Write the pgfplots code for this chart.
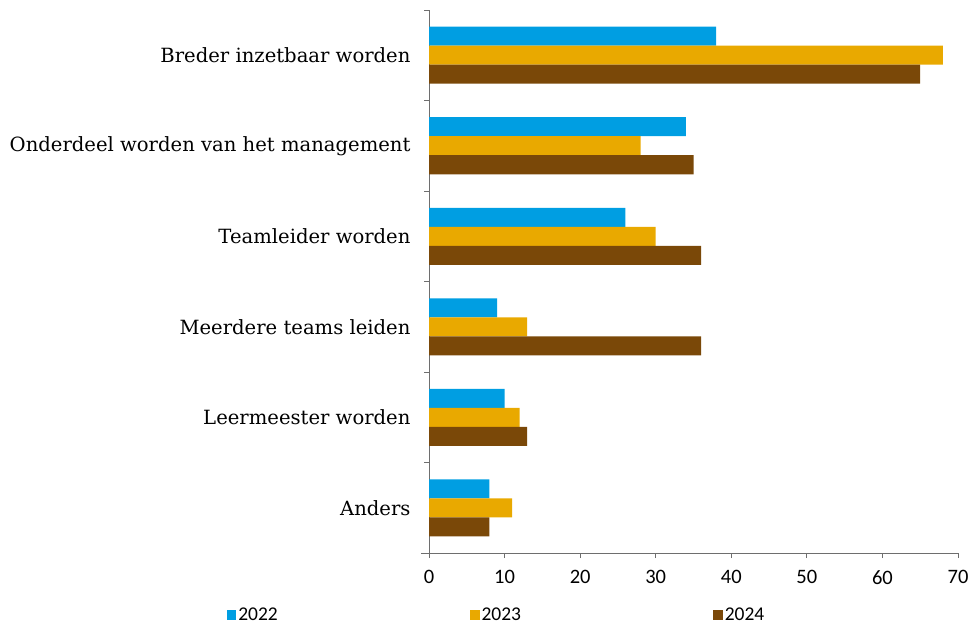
\documentclass[border=0pt]{standalone}
\usepackage{fontspec}
\setmainfont{DejaVu Serif}
\newfontfamily\carlito{Carlito}
\usepackage{pgfplots}
\pgfplotsset{compat=1.18}
\definecolor{c22}{RGB}{0,158,226}
\definecolor{c23}{RGB}{233,169,0}
\definecolor{c24}{RGB}{122,72,8}
\definecolor{axgray}{RGB}{110,110,110}
\begin{document}
\begin{tikzpicture}[x=1pt,y=1pt]
\path[use as bounding box] (0,0) rectangle (971,-628);
\begin{axis}[
  at={(429pt,-553pt)}, anchor=south west,
  width=529pt, height=543pt, scale only axis,
  xmin=0, xmax=70, ymin=-0.5, ymax=5.5,
  xbar, bar width=19pt,
  axis x line*=bottom, axis y line*=left,
  axis line style={axgray, line width=0.8pt},
  x axis line style={shorten <=-8pt},
  xtick={0,10,...,70},
  ytick={0,1,2,3,4,5},
  yticklabels={Anders,Leermeester worden,Meerdere teams leiden,Teamleider worden,Onderdeel worden van het management,Breder inzetbaar worden},
  minor ytick={-0.5,0.5,...,5.5},
  major y tick style={draw=none},
  minor y tick style={draw=axgray, line width=0.8pt},
  x tick style={axgray, line width=0.8pt},
  tick align=outside, major tick length=5pt, minor tick length=5pt,
  yticklabel style={font=\fontsize{19.6}{22}\selectfont, xshift=-10pt},
  xticklabel style={font=\carlito\fontsize{20.5}{22}\selectfont, yshift=-9pt},
  /pgf/number format/assume math mode=true,
  legend columns=3,
  legend style={at={(-0.383,-0.114)}, anchor=west, draw=none, inner sep=0pt,
    font=\carlito\fontsize{19.5}{21}\selectfont,
    /tikz/every even column/.append style={column sep=190pt},
    nodes={inner sep=2pt}},
  legend image code/.code={\fill (0pt,-4.85pt) rectangle (9.7pt,4.85pt);},
]
\addplot[fill=c22, draw=none, bar shift=19pt] coordinates {(38,5) (34,4) (26,3) (9,2) (10,1) (8,0)};
\addplot[fill=c23, draw=none, bar shift=0pt] coordinates {(68,5) (28,4) (30,3) (13,2) (12,1) (11,0)};
\addplot[fill=c24, draw=none, bar shift=-19pt] coordinates {(65,5) (35,4) (36,3) (36,2) (13,1) (8,0)};
\legend{2022,2023,2024}
\end{axis}
\end{tikzpicture}
\end{document}
